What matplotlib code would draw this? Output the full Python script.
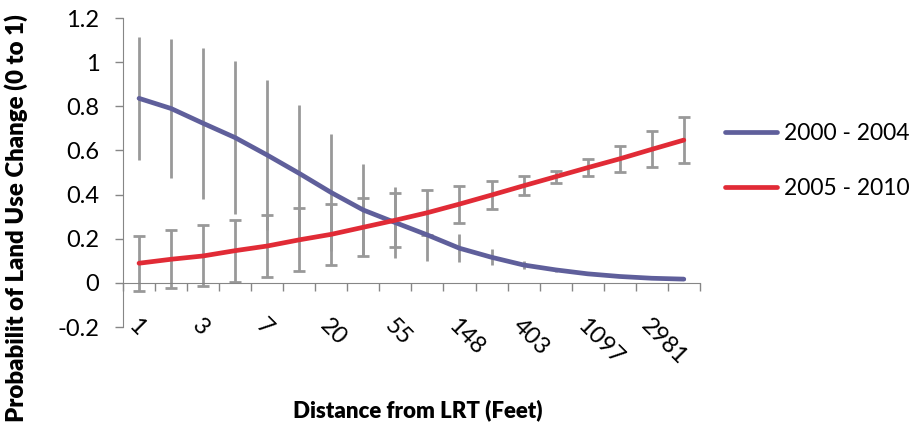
import numpy as np
import matplotlib
matplotlib.use("Agg")
import matplotlib.pyplot as plt
from matplotlib.ticker import FixedLocator

plt.rcParams['font.family'] = ['Lato', 'DejaVu Sans']

# categories are ln(distance) in half steps, every second one labelled
distance = ['1', '2', '3', '4', '7', '12', '20', '33', '55', '90',
            '148', '245', '403', '665', '1097', '1808', '2981', '4915']

p_2000_2004 = [0.836, 0.790, 0.723, 0.658, 0.579, 0.496, 0.409, 0.330, 0.273,
               0.217, 0.157, 0.116, 0.081, 0.059, 0.041, 0.029, 0.021, 0.017]
err_2000_2004 = [0.278, 0.315, 0.343, 0.348, 0.339, 0.308, 0.264, 0.208, 0.162,
                 0.120, 0.064, 0.036, 0.020, 0.010, 0.006, 0.004, 0.003, 0.002]

p_2005_2010 = [0.089, 0.107, 0.122, 0.146, 0.167, 0.195, 0.220, 0.252, 0.284,
               0.318, 0.357, 0.398, 0.440, 0.481, 0.522, 0.562, 0.605, 0.647]
err_2005_2010 = [0.124, 0.132, 0.138, 0.141, 0.142, 0.143, 0.139, 0.131, 0.121,
                 0.102, 0.084, 0.063, 0.042, 0.027, 0.038, 0.060, 0.082, 0.104]

blue = '#5f5f9b'
red = '#e12b36'
grey = '#999999'
axis_grey = '#868686'

fig = plt.figure(figsize=(9.16, 4.32), dpi=100)
ax = fig.add_axes([0.1343, 0.243, 0.6297, 0.7153])

x = np.arange(len(distance))

ax.errorbar(x, p_2000_2004, yerr=err_2000_2004, fmt='none', ecolor=grey,
            elinewidth=2.0, capsize=0, zorder=2)
ax.errorbar(x, p_2005_2010, yerr=err_2005_2010, fmt='none', ecolor=grey,
            elinewidth=2.0, capsize=4.2, capthick=2.0, zorder=2)
ax.plot(x, p_2000_2004, color=blue, lw=3.4, solid_capstyle='round',
        label='2000 - 2004', zorder=3)
ax.plot(x, p_2005_2010, color=red, lw=3.4, solid_capstyle='round',
        label='2005 - 2010', zorder=3)

ax.set_xlim(-0.5, len(distance) - 0.5)
ax.set_ylim(-0.2, 1.2)

for s in ['top', 'right']:
    ax.spines[s].set_visible(False)
ax.spines['left'].set_color(axis_grey)
ax.spines['bottom'].set_color(axis_grey)
ax.spines['bottom'].set_position(('data', 0))

yt = np.arange(-0.2, 1.21, 0.2)
ax.set_yticks(yt)
ax.set_yticklabels(['-0.2', '0', '0.2', '0.4', '0.6', '0.8', '1', '1.2'])
ax.tick_params(axis='y', direction='out', length=6, width=1, color=axis_grey,
               labelsize=17, pad=11)

ax.set_xticks(x[::2])
ax.set_xticklabels(distance[::2], rotation=-45, ha='left', va='top',
                   rotation_mode='anchor')
ax.xaxis.set_minor_locator(FixedLocator(np.arange(-0.5, len(distance), 1)))
ax.tick_params(axis='x', which='major', length=0, labelsize=17, pad=23)
ax.tick_params(axis='x', which='minor', direction='out', length=6, width=1,
               color=axis_grey)

fig.text(0.456, 0.05, 'Distance from LRT (Feet)', ha='center', va='center',
         fontsize=16, fontweight='heavy')
fig.text(0.018, 0.495, 'Probabilit of Land Use Change (0 to 1)', ha='center',
         va='center', rotation=90, fontsize=17.3, fontweight='heavy')

ax.legend(loc='upper left', bbox_to_anchor=(0.791, 0.715),
          bbox_transform=fig.transFigure, frameon=False, fontsize=16.5,
          handlelength=2.3, handletextpad=0.3, labelspacing=1.5,
          borderaxespad=0, borderpad=0)

fig.savefig('out.png', dpi=100)
